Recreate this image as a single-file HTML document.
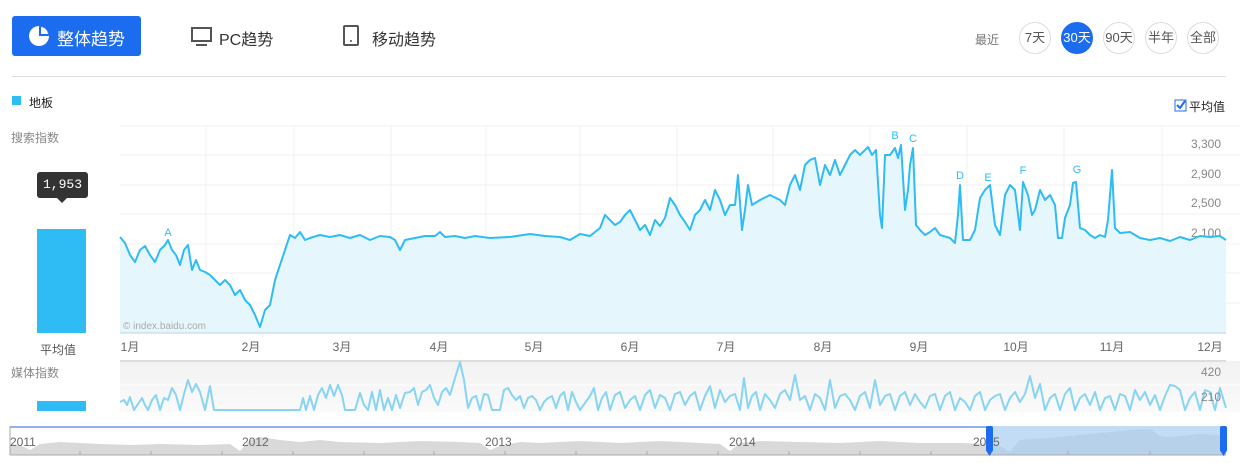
<!DOCTYPE html>
<html><head><meta charset="utf-8"><style>
body{margin:0;width:1244px;height:463px;background:#fff;font-family:"Liberation Sans","Noto Sans CJK SC",sans-serif;position:relative;overflow:hidden}
.a{position:absolute}
.c{position:absolute;width:30px;height:30px;border:1px solid #ddd;border-radius:50%;font-size:13px;line-height:30px;text-align:center;color:#555;top:22px}
</style></head><body>
<div class="a" style="left:12px;top:16px;width:129px;height:40px;background:#1c6cf0;border-radius:3px"></div>
<svg class="a" style="left:28px;top:25px" width="22" height="22"><circle cx="11" cy="11" r="10" fill="#fff"/><path d="M11 11 L11 1 A10 10 0 0 1 21 11 Z" fill="#1c6cf0"/><path d="M13 9 L13 2 A8 8 0 0 1 20 9Z" fill="#fff"/></svg>
<div class="a" style="left:57px;top:25px;font-size:17px;color:#fff">整体趋势</div>
<svg class="a" style="left:190px;top:26px" width="24" height="22"><rect x="2" y="2" width="19" height="13" fill="none" stroke="#555" stroke-width="2"/><rect x="6" y="18" width="11" height="2" fill="#555"/></svg>
<div class="a" style="left:219px;top:26px;font-size:16px;color:#333">PC趋势</div>
<svg class="a" style="left:342px;top:25px" width="18" height="22"><rect x="2" y="1" width="14" height="19" rx="1" fill="none" stroke="#555" stroke-width="2"/><circle cx="9" cy="16" r="1" fill="#555"/></svg>
<div class="a" style="left:372px;top:26px;font-size:16px;color:#333">移动趋势</div>
<div class="a" style="left:975px;top:31px;font-size:12px;color:#777">最近</div>
<div class="c" style="left:1019px">7天</div>
<div class="c" style="left:1061px;background:#1c6cf0;border-color:#1c6cf0;color:#fff">30天</div>
<div class="c" style="left:1103px">90天</div>
<div class="c" style="left:1145px">半年</div>
<div class="c" style="left:1187px">全部</div>
<div class="a" style="left:12px;top:76px;width:1214px;height:1px;background:#ddd"></div>
<div class="a" style="left:12px;top:96px;width:9px;height:9px;background:#2fbcf4"></div>
<div class="a" style="left:29px;top:94px;font-size:12px;color:#222">地板</div>
<svg class="a" style="left:1174px;top:99px" width="14" height="14"><rect x="1" y="1" width="11" height="11" fill="#fff" stroke="#1c6cf0"/><path d="M3 6 L6 9 L11 2" fill="none" stroke="#1c6cf0" stroke-width="2"/></svg>
<div class="a" style="left:1189px;top:98px;font-size:12px;color:#222">平均值</div>
<div class="a" style="left:11px;top:129px;font-size:12px;color:#888">搜索指数</div>
<div class="a" style="left:37px;top:172px;width:51px;height:26px;background:#333;border-radius:3px;color:#fff;font-family:'Liberation Mono',monospace;font-size:13px;line-height:26px;text-align:center">1,953</div>
<div class="a" style="left:57px;top:198px;border:5px solid transparent;border-top-color:#333"></div>
<div class="a" style="left:37px;top:229px;width:49px;height:104px;background:#2fbcf4"></div>
<div class="a" style="left:40px;top:341px;font-size:12px;color:#555">平均值</div>
<div class="a" style="left:11px;top:364px;font-size:12px;color:#888">媒体指数</div>
<div class="a" style="left:37px;top:401px;width:49px;height:10px;background:#2fbcf4"></div>
<svg class="a" style="left:0;top:0" width="1244" height="463" font-family="Liberation Sans,Noto Sans CJK SC,sans-serif">
<g stroke="#f0f0f0" stroke-width="1">
<line x1="120" y1="126" x2="1240" y2="126"/><line x1="120" y1="155" x2="1240" y2="155"/><line x1="120" y1="185" x2="1240" y2="185"/><line x1="120" y1="214" x2="1240" y2="214"/><line x1="120" y1="244" x2="1240" y2="244"/><line x1="120" y1="273" x2="1240" y2="273"/><line x1="120" y1="303" x2="1240" y2="303"/>
<line x1="206" y1="126" x2="206" y2="333"/><line x1="294" y1="126" x2="294" y2="333"/><line x1="391" y1="126" x2="391" y2="333"/><line x1="486" y1="126" x2="486" y2="333"/><line x1="580" y1="126" x2="580" y2="333"/><line x1="677" y1="126" x2="677" y2="333"/><line x1="773" y1="126" x2="773" y2="333"/><line x1="870" y1="126" x2="870" y2="333"/><line x1="967" y1="126" x2="967" y2="333"/><line x1="1064" y1="126" x2="1064" y2="333"/><line x1="1162" y1="126" x2="1162" y2="333"/>
</g>
<g fill="#888" font-size="12" text-anchor="end">
<text x="1221" y="148">3,300</text><text x="1221" y="178">2,900</text><text x="1221" y="207">2,500</text><text x="1221" y="237">2,100</text><text x="1221" y="267">1,700</text><text x="1221" y="296">1,300</text><text x="1221" y="325">900</text>
</g>
<polygon fill="#e6f6fd" points="120,333 120,237 125,243 130,255 135,262 140,250 145,246 150,255 155,262 160,250 165,245 168,240 172,250 176,255 180,265 184,250 188,245 192,270 196,260 200,270 205,272 210,275 215,280 220,285 225,280 230,285 235,295 240,290 245,300 250,305 255,315 260,327 265,310 270,305 275,280 280,265 285,250 290,235 295,238 300,232 305,240 310,238 320,235 330,237 340,235 350,238 360,235 370,240 380,236 390,237 395,240 400,250 405,240 415,238 425,236 435,236 440,232 445,237 455,236 465,238 475,236 490,238 510,237 530,234 545,236 560,237 570,240 580,234 590,236 600,228 605,215 610,220 615,225 620,222 625,215 630,210 635,220 640,230 645,225 650,235 655,220 660,226 665,218 670,198 675,205 680,215 685,222 690,230 695,215 700,210 705,200 710,210 715,190 720,200 725,215 730,205 735,205 738,175 742,230 745,210 748,185 752,205 760,200 770,195 780,200 785,205 790,185 795,175 800,190 805,165 810,160 815,158 820,185 825,165 830,175 835,160 840,175 845,165 850,155 855,150 860,155 865,150 868,147 872,155 876,150 880,215 882,228 885,155 890,155 895,148 898,158 901,145 905,210 908,190 910,165 913,148 916,225 920,230 925,235 930,232 935,228 940,235 950,238 955,243 958,215 960,185 963,240 970,240 975,230 980,198 985,190 990,185 995,225 1000,235 1005,195 1010,185 1015,190 1020,230 1023,182 1028,195 1032,215 1035,210 1040,190 1045,200 1050,195 1055,205 1058,238 1062,238 1065,218 1070,205 1073,183 1076,182 1080,228 1085,230 1090,235 1095,238 1100,235 1105,237 1108,220 1112,170 1115,228 1120,233 1130,232 1140,238 1150,240 1160,238 1170,241 1180,237 1190,240 1200,236 1210,237 1220,236 1226,240 1226,333"/>
<polyline fill="none" stroke="#2fbcf4" stroke-width="2" stroke-linejoin="round" points="120,237 125,243 130,255 135,262 140,250 145,246 150,255 155,262 160,250 165,245 168,240 172,250 176,255 180,265 184,250 188,245 192,270 196,260 200,270 205,272 210,275 215,280 220,285 225,280 230,285 235,295 240,290 245,300 250,305 255,315 260,327 265,310 270,305 275,280 280,265 285,250 290,235 295,238 300,232 305,240 310,238 320,235 330,237 340,235 350,238 360,235 370,240 380,236 390,237 395,240 400,250 405,240 415,238 425,236 435,236 440,232 445,237 455,236 465,238 475,236 490,238 510,237 530,234 545,236 560,237 570,240 580,234 590,236 600,228 605,215 610,220 615,225 620,222 625,215 630,210 635,220 640,230 645,225 650,235 655,220 660,226 665,218 670,198 675,205 680,215 685,222 690,230 695,215 700,210 705,200 710,210 715,190 720,200 725,215 730,205 735,205 738,175 742,230 745,210 748,185 752,205 760,200 770,195 780,200 785,205 790,185 795,175 800,190 805,165 810,160 815,158 820,185 825,165 830,175 835,160 840,175 845,165 850,155 855,150 860,155 865,150 868,147 872,155 876,150 880,215 882,228 885,155 890,155 895,148 898,158 901,145 905,210 908,190 910,165 913,148 916,225 920,230 925,235 930,232 935,228 940,235 950,238 955,243 958,215 960,185 963,240 970,240 975,230 980,198 985,190 990,185 995,225 1000,235 1005,195 1010,185 1015,190 1020,230 1023,182 1028,195 1032,215 1035,210 1040,190 1045,200 1050,195 1055,205 1058,238 1062,238 1065,218 1070,205 1073,183 1076,182 1080,228 1085,230 1090,235 1095,238 1100,235 1105,237 1108,220 1112,170 1115,228 1120,233 1130,232 1140,238 1150,240 1160,238 1170,241 1180,237 1190,240 1200,236 1210,237 1220,236 1226,240"/>
<g fill="#2fbcf4" font-size="11" text-anchor="middle">
<text x="168" y="236">A</text><text x="895" y="139">B</text><text x="913" y="142">C</text><text x="960" y="179">D</text><text x="988" y="181">E</text><text x="1023" y="174">F</text><text x="1077" y="173">G</text>
</g>
<text x="123" y="329" font-size="10" fill="#aaa">© index.baidu.com</text>
<line x1="120" y1="333" x2="1226" y2="333" stroke="#b8d4e6"/>
<g fill="#666" font-size="12" text-anchor="middle">
<text x="130" y="351">1月</text><text x="251" y="351">2月</text><text x="342" y="351">3月</text><text x="439" y="351">4月</text><text x="534" y="351">5月</text><text x="630" y="351">6月</text><text x="726" y="351">7月</text><text x="823" y="351">8月</text><text x="919" y="351">9月</text><text x="1016" y="351">10月</text><text x="1112" y="351">11月</text><text x="1210" y="351">12月</text>
</g>
<defs><linearGradient id="g" x1="0" y1="0" x2="0" y2="1"><stop offset="0" stop-color="#f2f2f2"/><stop offset="1" stop-color="#fafafa"/></linearGradient></defs>
<rect x="120" y="361" width="1120" height="51" fill="url(#g)"/>
<line x1="120" y1="361" x2="1226" y2="361" stroke="#ddd" stroke-width="2"/>
<line x1="120" y1="385" x2="1240" y2="385" stroke="#fff"/>
<polyline fill="none" stroke="#87d4f3" stroke-width="2" stroke-linejoin="round" points="120,402 124,400 127,405 130,397 134,410 138,404 142,398 145,405 148,410 152,400 156,395 160,410 164,398 168,400 172,388 176,395 180,410 184,394 188,380 192,392 196,384 200,392 205,410 210,386 214,410 230,410 260,410 300,410 303,398 306,410 310,396 314,410 318,395 322,388 326,398 330,385 334,396 338,385 342,395 345,410 350,410 355,410 360,393 364,405 368,410 372,392 376,410 380,390 384,410 388,398 392,410 396,395 400,408 405,393 410,392 414,388 418,405 422,392 426,390 430,385 434,398 438,405 442,392 446,388 450,395 455,378 460,362 464,380 468,408 472,398 476,396 480,410 484,394 488,395 492,410 500,410 504,390 508,388 512,395 516,400 520,396 524,408 528,398 532,396 536,400 540,410 544,402 548,398 552,396 556,408 560,396 564,392 568,410 572,392 576,402 580,410 590,396 594,388 598,410 602,398 606,392 610,410 615,395 620,392 625,408 630,400 635,396 640,410 645,395 650,390 655,408 660,395 665,398 670,410 675,394 680,392 685,405 690,396 695,392 700,410 705,396 710,386 715,408 720,390 725,402 730,396 735,394 740,410 744,378 748,408 752,396 756,392 760,410 765,394 770,400 775,408 780,394 785,390 790,400 795,375 800,400 805,396 810,410 815,394 820,398 825,410 830,380 835,408 840,396 845,394 850,400 855,410 860,396 865,392 870,408 875,380 880,405 885,396 890,394 895,410 900,396 905,392 910,405 915,394 920,402 925,408 930,396 935,394 940,410 945,396 950,392 955,410 960,398 965,402 970,410 975,396 980,392 985,410 990,400 995,396 1000,394 1005,410 1010,398 1015,392 1020,402 1025,394 1030,376 1035,398 1040,384 1045,410 1050,398 1055,394 1060,410 1065,394 1070,388 1075,410 1080,398 1085,394 1090,405 1095,392 1100,410 1105,398 1110,396 1115,410 1120,394 1125,396 1130,410 1135,390 1140,400 1145,392 1150,405 1155,395 1160,410 1165,396 1170,385 1175,386 1180,390 1185,410 1190,398 1195,392 1200,410 1205,390 1210,392 1215,410 1220,388 1226,408"/>
<text x="1221" y="376" font-size="12" fill="#888" text-anchor="end">420</text>
<text x="1221" y="401" font-size="12" fill="#888" text-anchor="end">210</text>
<path fill="#d9d9d9" d="M10,455 L10,444 L20,445 L30,450 L40,444 L60,442 L80,443 L100,444 L130,445 L160,444 L200,445 L230,444 L240,451 L250,440 L260,437 L280,440 L300,442 L320,440 L340,442 L380,443 L420,441 L460,442 L480,443 L490,450 L500,446 L520,442 L540,443 L580,441 L620,443 L660,441 L700,443 L720,444 L730,451 L740,443 L760,441 L800,442 L840,443 L880,441 L920,443 L960,443 L990,444 L1000,446 L1010,452 L1020,440 L1060,437 L1100,433 L1130,430 L1150,429 L1160,436 L1170,437 L1200,434 L1226,436 L1226,455Z"/>
<rect x="990" y="426" width="236" height="29" fill="#a7cdef" opacity="0.7"/>
<line x1="10" y1="427" x2="990" y2="427" stroke="#8fb2e8" stroke-width="2"/>
<line x1="10" y1="426" x2="10" y2="455" stroke="#aaa"/>
<line x1="10" y1="455" x2="1226" y2="455" stroke="#aaa"/>
<g stroke="#aaa"><line x1="80" y1="451" x2="80" y2="455"/><line x1="151" y1="451" x2="151" y2="455"/><line x1="222" y1="451" x2="222" y2="455"/><line x1="293" y1="451" x2="293" y2="455"/><line x1="364" y1="451" x2="364" y2="455"/><line x1="434" y1="451" x2="434" y2="455"/><line x1="505" y1="451" x2="505" y2="455"/><line x1="576" y1="451" x2="576" y2="455"/><line x1="647" y1="451" x2="647" y2="455"/><line x1="718" y1="451" x2="718" y2="455"/><line x1="789" y1="451" x2="789" y2="455"/><line x1="860" y1="451" x2="860" y2="455"/><line x1="931" y1="451" x2="931" y2="455"/><line x1="1068" y1="451" x2="1068" y2="455"/><line x1="1150" y1="451" x2="1150" y2="455"/></g>
<g fill="#666" font-size="12"><text x="10" y="446">2011</text><text x="242" y="446">2012</text><text x="485" y="446">2013</text><text x="729" y="446">2014</text><text x="973" y="446">2015</text></g>
<rect x="986" y="426" width="7" height="26" rx="2" fill="#1c6cf0"/><path d="M987,452 L992,452 L989.5,456Z" fill="#1c6cf0"/>
<rect x="1220" y="426" width="7" height="26" rx="2" fill="#1c6cf0"/><path d="M1221,452 L1226,452 L1223.5,456Z" fill="#1c6cf0"/>
</svg>
</body></html>
